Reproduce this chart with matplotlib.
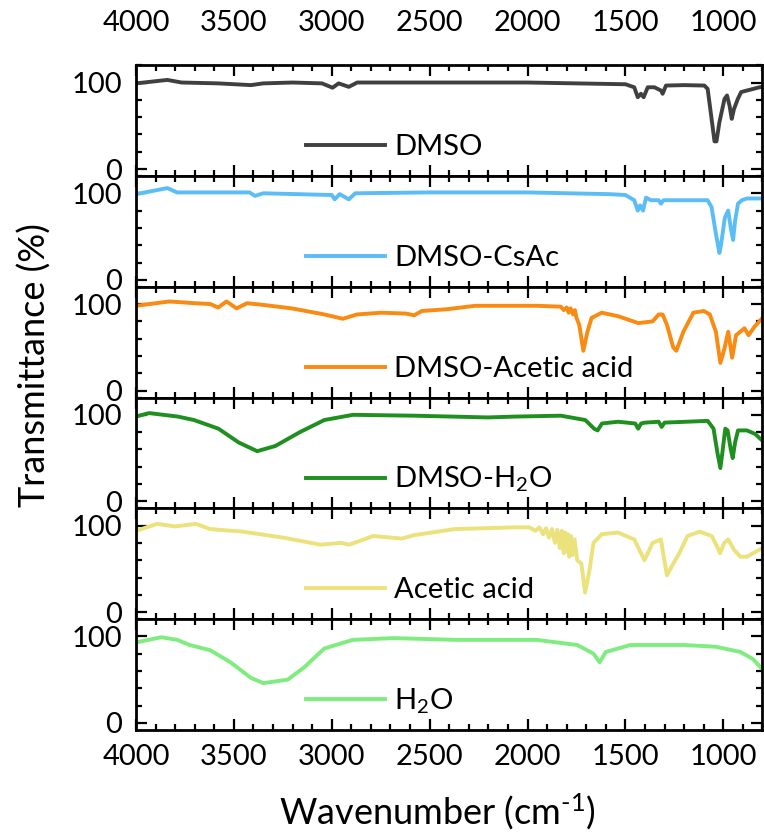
import matplotlib
matplotlib.use("Agg")
import matplotlib.pyplot as plt
from matplotlib.ticker import MultipleLocator

plt.rcParams['font.family'] = ['Lato', 'DejaVu Sans']
plt.rcParams['mathtext.fontset'] = 'custom'
plt.rcParams['mathtext.rm'] = 'Lato'
plt.rcParams['mathtext.it'] = 'Lato:italic'

# ---- spectra (wavenumber in cm-1, transmittance in %) ----
dmso_wn = [4000, 3840, 3767, 3580, 3413, 3350, 3200, 3050, 2996, 2965, 2913, 2870, 2500,
           2000, 1625, 1500, 1455, 1437, 1421, 1407, 1386, 1352, 1318, 1310, 1293, 1200,
           1097, 1080, 1062, 1045, 1035, 1020, 994, 981, 968, 957, 946, 926, 909, 875, 815, 800]
dmso_t = [99, 103, 100, 99, 97, 99, 100, 99, 94, 99, 95, 100, 100,
          100, 98.5, 98, 94.5, 83, 87, 83, 94.5, 94.5, 90.7, 87, 96.5, 97,
          96.5, 92.6, 61.6, 32, 32, 54, 81, 85, 73, 58, 69, 81, 89, 91, 94.5, 95]

csac_wn = [4000, 3840, 3790, 3420, 3392, 3350, 3000, 2985, 2960, 2913, 2880, 2500, 2000,
           1580, 1500, 1455, 1437, 1425, 1410, 1395, 1370, 1330, 1319, 1305, 1200, 1080,
           1060, 1040, 1020, 1012, 992, 975, 962, 950, 940, 925, 905, 880, 800]
csac_t = [99, 106, 101, 101, 97, 100, 98, 93, 99, 93, 100, 101, 101,
          99, 98, 92, 80, 86, 80, 95, 92, 92, 88, 92, 92, 92,
          84, 56, 31, 40, 72, 80, 60, 46, 68, 88, 92, 94, 94]

dmac_wn = [4000, 3830, 3700, 3620, 3580, 3538, 3486, 3433, 3350, 3204, 3038, 2944, 2871,
           2746, 2621, 2579, 2540, 2413, 2267, 1954, 1830, 1815, 1800, 1790, 1780, 1767,
           1758, 1750, 1736, 1715, 1694, 1673, 1621, 1538, 1434, 1361, 1330, 1310, 1288,
           1256, 1240, 1204, 1153, 1100, 1069, 1038, 1015, 995, 975, 955, 935, 892, 871,
           840, 800]
dmac_t = [98, 103, 101, 100, 96, 103, 95, 101, 99, 95, 88, 83, 88,
          90, 89, 87, 92, 94, 98, 98, 97, 93, 96, 90, 95, 88,
          93, 84, 76, 46, 68, 84, 90, 86, 78, 80, 88, 88, 76,
          50, 46, 68, 90, 92, 88, 68, 32, 48, 68, 38, 64, 72, 64,
          74, 84]

dmh2o_wn = [4000, 3933, 3787, 3704, 3579, 3475, 3381, 3288, 3163, 3038, 2892, 2579, 2204,
            2058, 1830, 1705, 1660, 1642, 1620, 1538, 1450, 1435, 1420, 1400, 1330, 1315,
            1300, 1080, 1050, 1030, 1015, 1005, 990, 978, 962, 952, 940, 925, 880, 838, 800]
dmh2o_t = [98, 102, 98, 94, 84, 68, 58, 64, 80, 94, 100, 99, 97,
           98, 99, 94, 84, 82, 90, 92, 90, 84, 90, 91, 92, 86,
           91, 93, 84, 56, 38.5, 56, 84, 82, 60, 50, 68, 82, 82, 78, 70]

acac_wn = [4000, 3892, 3800, 3694, 3621, 3454, 3246, 3058, 2954, 2910, 2788, 2642, 2579,
           2371, 2058, 1990, 1960, 1940, 1920, 1905, 1890, 1875, 1860, 1848, 1835, 1825,
           1815, 1808, 1800, 1793, 1787, 1778, 1770, 1760, 1746, 1725, 1706, 1684, 1663,
           1621, 1538, 1455, 1403, 1361, 1319, 1288, 1256, 1225, 1183, 1121, 1059, 1030,
           1017, 995, 975, 945, 913, 880, 800]
acac_t = [94, 102, 99, 102, 96, 93, 86, 78, 80, 78, 88, 85, 89,
          96, 98, 98, 94, 98, 90, 97, 86, 96, 80, 95, 74, 94,
          68, 92, 70, 90, 64, 88, 66, 84, 60, 56, 22.6, 48, 80,
          90, 92, 84, 60, 80, 84, 42.5, 56, 68, 88, 93, 88, 75,
          68, 80, 84, 72, 64, 64, 74]

h2o_wn = [4000, 3871, 3790, 3725, 3621, 3517, 3413, 3350, 3225, 3142, 3038, 2892, 2683,
          2371, 1954, 1746, 1663, 1632, 1600, 1475, 1200, 1038, 913, 850, 800]
h2o_t = [93, 99, 96, 90, 84, 70, 52, 46, 50, 64, 86, 96, 98,
         96, 96, 90, 80, 70, 82, 90, 90, 88, 82, 74, 62]

names = ['DMSO', 'DMSO-CsAc', 'DMSO-Acetic acid', 'DMSO-H$_2$O', 'Acetic acid', 'H$_2$O']
colors = ['#404040', '#5bbdf5', '#f98a12', '#1f8f1f', '#ebe27c', '#7fec7f']
series = [(dmso_wn, dmso_t), (csac_wn, csac_t), (dmac_wn, dmac_t),
          (dmh2o_wn, dmh2o_t), (acac_wn, acac_t), (h2o_wn, h2o_t)]

fig = plt.figure(figsize=(7.64, 8.36), dpi=100)
axes = fig.subplots(6, 1, sharex=True, gridspec_kw=dict(hspace=0))
fig.subplots_adjust(left=0.178, right=0.998, top=0.922, bottom=0.127)

for ax, (wn, t), name, c in zip(axes, series, names, colors):
    ax.plot(wn, t, color=c, lw=2.8, label=name, solid_joinstyle='round')
    ax.set_xlim(4000, 800)
    ax.set_ylim(-8, 120)
    ax.set_yticks([0, 100])
    ax.yaxis.set_minor_locator(MultipleLocator(20))
    ax.xaxis.set_major_locator(MultipleLocator(500))
    ax.xaxis.set_minor_locator(MultipleLocator(100))
    ax.tick_params(which='both', direction='in', top=True, right=True, width=1.6,
                   labelsize=21, labelbottom=False)
    ax.tick_params(which='major', length=8)
    ax.tick_params(which='minor', length=4.5)
    ax.tick_params(axis='y', pad=10)
    for s in ax.spines.values():
        s.set_linewidth(2)
    ax.legend(loc='center left', bbox_to_anchor=(0.272, 0.258), frameon=False,
              fontsize=21, handlelength=2.7, handletextpad=0.3,
              borderpad=0, borderaxespad=0)

axes[0].tick_params(axis='x', labeltop=True, pad=21)
axes[-1].tick_params(axis='x', labelbottom=True, pad=10)

fig.text(0.045, 0.563, 'Transmittance (%)', rotation=90, ha='center', va='center', fontsize=26)
fig.text(0.572, 0.029, r'Wavenumber (cm$^{\text{-1}}$)', ha='center', va='center', fontsize=26)

fig.savefig('out.png', dpi=100)
